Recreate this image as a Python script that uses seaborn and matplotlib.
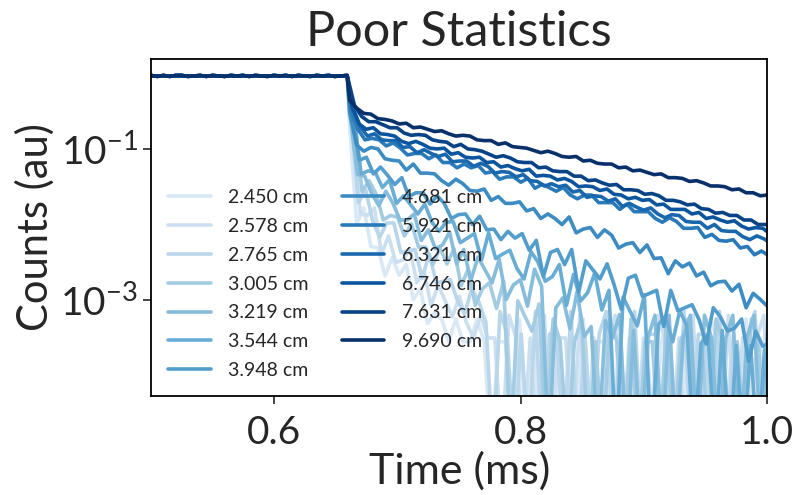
import numpy as np
import pandas as pd
import seaborn as sns
import matplotlib.pyplot as plt
from matplotlib.ticker import NullLocator

# source distances (legend labels)
distances = ["2.450 cm", "2.578 cm", "2.765 cm", "3.005 cm", "3.219 cm", "3.544 cm", "3.948 cm",
             "4.681 cm", "5.921 cm", "6.321 cm", "6.746 cm", "7.631 cm", "9.690 cm"]

# log10(counts) of the flat part before the cut-off, 0.500 - 0.659 ms (same for every curve)
pre_pulse = [-0.03, -0.04, -0.03, -0.04, -0.03, -0.03, -0.04, -0.035, -0.03, -0.04, -0.03,
             -0.035, -0.04, -0.03, -0.035, -0.03, -0.04, -0.03, -0.035, -0.04, -0.03, -0.035,
             -0.03, -0.04, -0.03, -0.035, -0.04, -0.03, -0.035, -0.03, -0.04, -0.035, -0.03]

# log10(counts) after the cut-off, 0.661 - 1.000 ms; -5 = no counts (off the bottom)
c2450 = [-0.68, -1.99, -1.78, -2.29, -2.31, -2.68, -2.44, -2.67, -2.53, -2.99,
         -2.85, -3.31, -3.17, -3.25, -3.55, -3.25, -3.55, -3.55, -3.25, -3.55,
         -5.00, -3.55, -3.55, -5.00, -3.25, -5.00, -3.55, -5.00, -3.55, -3.25,
         -5.00, -3.55, -5.00, -3.25, -5.00, -3.55, -3.55, -5.00, -3.55, -5.00,
         -3.25, -5.00, -3.55, -5.00, -3.55, -3.25, -5.00, -3.55, -5.00, -3.55,
         -5.00, -3.25, -3.55, -5.00, -3.55, -5.00, -3.25, -5.00, -3.55, -5.00]
c2578 = [-0.66, -1.86, -1.88, -1.78, -2.39, -2.15, -2.50, -2.47, -2.32, -2.77,
         -2.62, -3.07, -2.80, -3.01, -3.22, -2.95, -3.30, -3.50, -3.20, -3.50,
         -3.50, -5.00, -3.20, -3.50, -5.00, -3.50, -5.00, -3.20, -5.00, -3.50,
         -3.50, -5.00, -3.20, -5.00, -3.50, -5.00, -3.50, -3.20, -5.00, -3.50,
         -5.00, -3.50, -5.00, -3.20, -3.50, -5.00, -3.50, -5.00, -3.20, -5.00,
         -3.50, -3.50, -5.00, -3.20, -5.00, -3.50, -5.00, -3.50, -3.20, -5.00]
c2765 = [-0.64, -1.71, -1.53, -1.95, -2.17, -1.98, -1.98, -2.37, -2.35, -2.33,
         -2.71, -2.39, -2.77, -2.75, -2.73, -3.01, -3.18, -2.85, -3.02, -3.29,
         -5.00, -3.15, -3.45, -5.00, -3.45, -5.00, -3.15, -5.00, -3.45, -3.45,
         -5.00, -3.15, -5.00, -3.45, -5.00, -3.45, -3.15, -5.00, -3.45, -5.00,
         -3.15, -5.00, -3.45, -3.45, -5.00, -3.45, -5.00, -3.15, -5.00, -3.45,
         -3.45, -5.00, -3.15, -5.00, -3.45, -5.00, -3.45, -3.15, -5.00, -3.45]
c3005 = [-0.62, -1.56, -1.42, -1.60, -1.94, -1.88, -1.90, -2.15, -1.99, -2.30,
         -2.30, -2.53, -2.31, -2.52, -2.32, -2.81, -2.59, -3.07, -2.85, -2.77,
         -3.11, -2.75, -5.00, -3.01, -3.21, -3.41, -3.05, -5.00, -3.25, -3.55,
         -5.00, -3.55, -3.25, -5.00, -3.55, -5.00, -3.25, -3.55, -5.00, -3.25,
         -5.00, -3.55, -3.55, -5.00, -3.25, -5.00, -3.55, -3.25, -5.00, -3.55,
         -5.00, -3.25, -3.55, -5.00, -3.55, -5.00, -3.25, -3.55, -5.00, -3.55]
c3219 = [-0.60, -1.34, -1.36, -1.59, -1.75, -1.56, -1.72, -1.94, -1.94, -1.86,
         -2.21, -2.07, -2.32, -2.27, -2.10, -2.52, -2.33, -2.74, -2.43, -2.60,
         -2.77, -2.46, -2.99, -2.80, -2.73, -3.08, -2.59, -2.82, -5.00, -3.10,
         -2.97, -3.38, -2.89, -3.48, -3.35, -5.00, -3.27, -3.50, -3.19, -5.00,
         -3.40, -5.00, -3.50, -3.20, -5.00, -3.20, -5.00, -3.50, -3.20, -5.00,
         -3.20, -3.50, -5.00, -3.50, -3.20, -5.00, -3.50, -3.20, -5.00, -3.20]
c3544 = [-0.58, -1.33, -1.29, -1.31, -1.51, -1.41, -1.72, -1.62, -1.74, -1.86,
         -1.73, -1.97, -2.09, -1.97, -1.96, -2.24, -2.18, -2.12, -2.47, -2.11,
         -2.45, -2.39, -2.34, -2.58, -2.72, -2.36, -2.50, -2.75, -2.69, -2.53,
         -3.07, -2.66, -3.01, -2.90, -2.64, -3.13, -2.87, -5.00, -2.96, -3.15,
         -3.34, -2.93, -5.00, -3.32, -3.21, -3.55, -3.14, -3.34, -5.00, -3.57,
         -3.46, -5.00, -3.40, -5.00, -3.60, -5.00, -3.60, -5.00, -3.65, -5.00]
c3948 = [-0.56, -1.15, -1.11, -1.33, -1.24, -1.35, -1.47, -1.38, -1.63, -1.58,
         -1.58, -1.73, -1.62, -1.72, -1.92, -1.87, -1.86, -2.00, -1.89, -2.07,
         -2.06, -2.20, -2.09, -2.18, -2.12, -2.34, -2.21, -2.69, -2.37, -2.33,
         -2.53, -2.33, -2.89, -2.48, -2.60, -2.72, -2.52, -2.80, -3.12, -2.71,
         -2.67, -2.95, -2.91, -2.87, -3.35, -2.87, -3.14, -3.10, -3.06, -3.26,
         -3.58, -3.10, -3.22, -3.41, -3.37, -3.25, -3.81, -3.41, -3.61, -3.56]
c4681 = [-0.52, -0.95, -1.03, -0.98, -1.00, -1.13, -1.15, -1.16, -1.28, -1.20,
         -1.32, -1.32, -1.33, -1.42, -1.48, -1.40, -1.46, -1.55, -1.56, -1.53,
         -1.68, -1.63, -1.72, -1.72, -1.70, -1.82, -1.79, -1.92, -1.86, -1.92,
         -2.00, -1.90, -2.11, -2.06, -2.04, -2.17, -2.07, -2.14, -2.31, -2.26,
         -2.24, -2.37, -2.27, -2.45, -2.44, -2.65, -2.48, -2.56, -2.51, -2.68,
         -2.63, -2.81, -2.76, -2.75, -2.88, -2.79, -3.10, -2.91, -2.99, -3.08]
c5921 = [-0.50, -0.74, -0.88, -0.86, -0.88, -0.96, -0.92, -0.99, -1.08, -1.06,
         -1.06, -1.13, -1.08, -1.18, -1.18, -1.25, -1.20, -1.25, -1.22, -1.32,
         -1.30, -1.40, -1.37, -1.37, -1.44, -1.39, -1.52, -1.47, -1.51, -1.56,
         -1.51, -1.61, -1.66, -1.61, -1.61, -1.71, -1.71, -1.71, -1.80, -1.73,
         -1.83, -1.83, -1.83, -1.92, -1.97, -1.91, -1.96, -2.05, -2.05, -2.04,
         -2.17, -2.13, -2.21, -2.22, -2.20, -2.31, -2.29, -2.40, -2.35, -2.41]
c6321 = [-0.47, -0.71, -0.83, -0.80, -0.88, -0.89, -0.89, -0.98, -0.97, -1.05,
         -1.01, -1.06, -1.10, -1.07, -1.17, -1.16, -1.16, -1.23, -1.19, -1.23,
         -1.32, -1.30, -1.31, -1.37, -1.34, -1.42, -1.43, -1.49, -1.46, -1.50,
         -1.48, -1.57, -1.55, -1.64, -1.62, -1.63, -1.69, -1.66, -1.76, -1.72,
         -1.77, -1.81, -1.78, -1.86, -1.91, -1.87, -1.88, -1.96, -1.97, -1.97,
         -2.05, -2.00, -2.08, -2.09, -2.09, -2.16, -2.20, -2.15, -2.19, -2.25]
c6746 = [-0.45, -0.67, -0.74, -0.72, -0.80, -0.81, -0.83, -0.90, -0.93, -0.90,
         -0.94, -0.99, -1.00, -0.99, -1.07, -1.05, -1.11, -1.12, -1.11, -1.18,
         -1.17, -1.24, -1.22, -1.26, -1.29, -1.27, -1.36, -1.35, -1.36, -1.41,
         -1.39, -1.43, -1.50, -1.49, -1.50, -1.55, -1.53, -1.60, -1.61, -1.66,
         -1.64, -1.68, -1.67, -1.74, -1.73, -1.80, -1.80, -1.80, -1.86, -1.84,
         -1.92, -1.90, -1.94, -1.97, -1.95, -2.02, -2.06, -2.04, -2.05, -2.12]
c7631 = [-0.43, -0.57, -0.64, -0.64, -0.68, -0.72, -0.72, -0.79, -0.82, -0.81,
         -0.82, -0.88, -0.90, -0.91, -0.97, -0.94, -1.00, -1.01, -1.03, -1.07,
         -1.11, -1.09, -1.12, -1.17, -1.18, -1.18, -1.25, -1.24, -1.29, -1.30,
         -1.30, -1.36, -1.36, -1.42, -1.41, -1.45, -1.48, -1.47, -1.54, -1.54,
         -1.55, -1.60, -1.59, -1.62, -1.68, -1.68, -1.70, -1.74, -1.73, -1.79,
         -1.80, -1.85, -1.84, -1.88, -1.88, -1.94, -1.94, -2.00, -2.00, -2.01]
c9690 = [-0.36, -0.46, -0.53, -0.54, -0.60, -0.61, -0.63, -0.67, -0.66, -0.72,
         -0.71, -0.74, -0.77, -0.76, -0.80, -0.83, -0.82, -0.83, -0.88, -0.89,
         -0.89, -0.94, -0.92, -0.97, -0.98, -0.99, -1.02, -1.05, -1.03, -1.06,
         -1.10, -1.11, -1.10, -1.16, -1.15, -1.19, -1.20, -1.20, -1.25, -1.24,
         -1.29, -1.28, -1.31, -1.34, -1.33, -1.38, -1.38, -1.39, -1.43, -1.42,
         -1.45, -1.49, -1.49, -1.50, -1.54, -1.53, -1.58, -1.58, -1.62, -1.61]

decays = [c2450, c2578, c2765, c3005, c3219, c3544, c3948,
          c4681, c5921, c6321, c6746, c7631, c9690]

# each detector's time bins are staggered a little
bin_shift = [0.0000, 0.0029, 0.0014, 0.0043, 0.0007, 0.0036, 0.0021,
             0.0000, 0.0010, 0.0030, 0.0020, 0.0040, 0.0000]

# long table for seaborn
frames = []
for label, post, sh in zip(distances, decays, bin_shift):
    t = np.concatenate([np.linspace(0.50, 0.659, len(pre_pulse)),
                        np.linspace(0.661 + sh, 1.0 + sh, len(post))])
    logc = np.concatenate([pre_pulse, post])
    frames.append(pd.DataFrame({"Time": t, "Counts": 10.0 ** logc, "Distance": label}))
df = pd.concat(frames, ignore_index=True)

sns.set_style("ticks")
plt.rcParams["font.family"] = ["Lato", "DejaVu Sans"]

blues = sns.color_palette("Blues", as_cmap=True)
palette = [blues(v) for v in np.linspace(0.15, 1.0, len(distances))]

fig = plt.figure(figsize=(7.96, 4.95), dpi=100)
ax = fig.add_axes([0.19, 0.2, 0.774, 0.681])
ax.set_yscale("log")

sns.lineplot(data=df, x="Time", y="Counts", hue="Distance", hue_order=distances,
             palette=palette, lw=2.6, estimator=None, sort=False, ax=ax)

ax.set_xlim(0.5, 1.0)
ax.set_ylim(5.4e-5, 1.55)
ax.set_xticks([0.6, 0.8, 1.0])
ax.set_yticks([1e-3, 1e-1])
ax.yaxis.set_minor_locator(NullLocator())

ax.set_title("Poor Statistics", fontsize=35, pad=9)
ax.set_xlabel("Time (ms)", fontsize=31, labelpad=0)
ax.set_ylabel("Counts (au)", fontsize=30)
ax.tick_params(labelsize=28, length=6, width=1.2)
ax.tick_params(axis="x", pad=8)
for s in ax.spines.values():
    s.set_color("black")
    s.set_linewidth(1.3)

sns.move_legend(ax, "lower left", bbox_to_anchor=(0.027, 0.05), ncol=2, title=None,
                frameon=False, fontsize=14, handlelength=2.2, handletextpad=0.9,
                columnspacing=1.7, labelspacing=0.61, borderaxespad=0, borderpad=0)

fig.savefig("out.png", dpi=100)
